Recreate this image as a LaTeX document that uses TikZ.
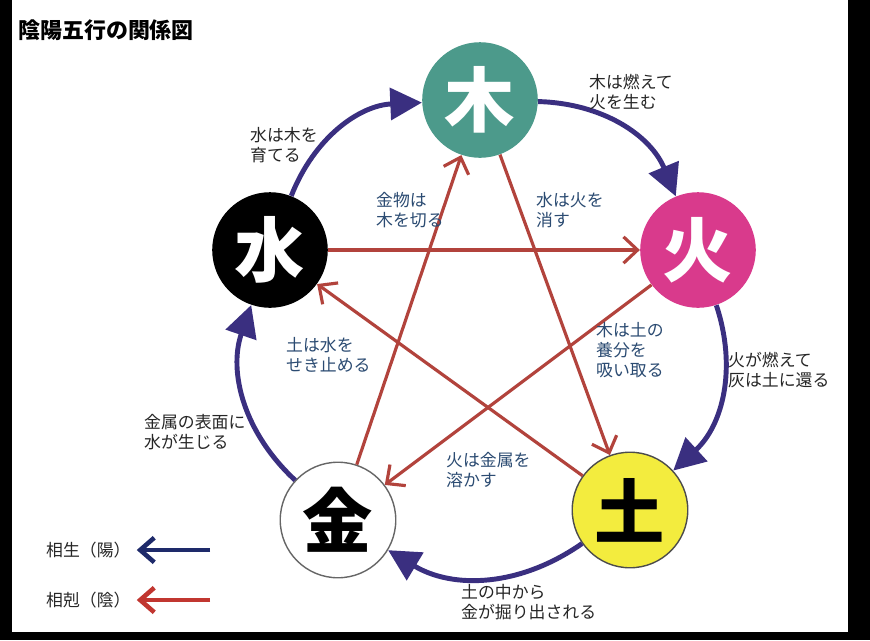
\documentclass[tikz,border=0pt]{standalone}
\usepackage{fontspec}
\setmainfont{Noto Sans CJK JP}
\usetikzlibrary{arrows.meta}
\definecolor{woodc}{HTML}{4C9A8B}
\definecolor{firec}{HTML}{D93A8C}
\definecolor{earthc}{HTML}{F3EC3E}
\definecolor{shengc}{HTML}{3A2F80}
\definecolor{legc}{HTML}{1E2A6A}
\definecolor{kec}{HTML}{B2433C}
\definecolor{notec}{HTML}{2B4B72}
\tikzset{
  elem/.style={circle, minimum size=116\pxu, inner sep=0pt, font=\fontsize{40}{40}\selectfont\bfseries},
  sheng/.style={draw=shengc, line width=2.8pt, -{Triangle[length=18pt,width=18pt]}, bend left=33},
  ke/.style={draw=kec, line width=1.8pt, -{Straight Barb[length=8pt,width=15pt,line width=1.8pt]}},
  note/.style={font=\fontsize{9.6}{11.5}\selectfont, align=left, anchor=west, text=black!85},
  innote/.style={note, text=notec},
}
\newlength{\pxu}
\setlength{\pxu}{0.567pt}
\begin{document}
\begin{tikzpicture}[x=0.02cm, y=-0.02cm]
\useasboundingbox (0,0) rectangle (870,640);
\fill[white] (0,0) rectangle (870,640);
\fill[black] (0,0) rectangle (12,640);
\fill[black] (848,0) rectangle (870,640);
\fill[black] (0,632) rectangle (870,640);
\node[anchor=west, font=\fontsize{12.5}{14}\selectfont\bfseries] (title) at (12,30) {陰陽五行の関係図};
% elements
\node[elem, fill=woodc, text=white] (wood) at (480,100) {木};
\node[elem, fill=firec, text=white] (fire) at (698,250) {火};
\node[elem, fill=earthc, draw=black!70, thick] (earth) at (630,510) {土};
\node[elem, fill=white, draw=black!60, thick] (metal) at (338,520) {金};
\node[elem, fill=black, text=white] (water) at (270,250) {水};
% generating cycle
\draw[sheng] (wood) to (fire);
\draw[sheng] (fire) to (earth);
\draw[sheng] (earth) to (metal);
\draw[sheng] (metal) to (water);
\draw[sheng] (water) to (wood);
% overcoming star
\draw[ke] (water) -- (fire);
\draw[ke] (fire) -- (metal);
\draw[ke] (metal) -- (wood);
\draw[ke] (wood) -- (earth);
\draw[ke] (earth) -- (water);
% labels
\node[note] (n1) at (583,92) {木は燃えて\\火を生む};
\node[note] (n2) at (244,145) {水は木を\\育てる};
\node[note] (n3) at (722,370) {火が燃えて\\灰は土に還る};
\node[note] (n4) at (138,432) {金属の表面に\\水が生じる};
\node[note] (n5) at (455,602) {土の中から\\金が掘り出される};
\node[innote] (n6) at (370,210) {金物は\\木を切る};
\node[innote] (n7) at (530,210) {水は火を\\消す};
\node[innote] (n8) at (590,350) {木は土の\\養分を\\吸い取る};
\node[innote] (n9) at (280,355) {土は水を\\せき止める};
\node[innote] (n10) at (440,470) {火は金属を\\溶かす};
% legend
\node[note] (lg1) at (40,550) {相生（陽）};
\node[note] (lg2) at (40,600) {相剋（陰）};
\coordinate (a1) at (210,550);
\coordinate (a2) at (210,600);
\draw[draw=legc, line width=2.6pt, -{Straight Barb[length=8pt,width=14pt,line width=2.6pt]}] (a1) -- (lg1.east);
\draw[draw=kec!80!red, line width=2.6pt, -{Straight Barb[length=8pt,width=14pt,line width=2.6pt]}] (a2) -- (lg2.east);
\end{tikzpicture}
\end{document}
